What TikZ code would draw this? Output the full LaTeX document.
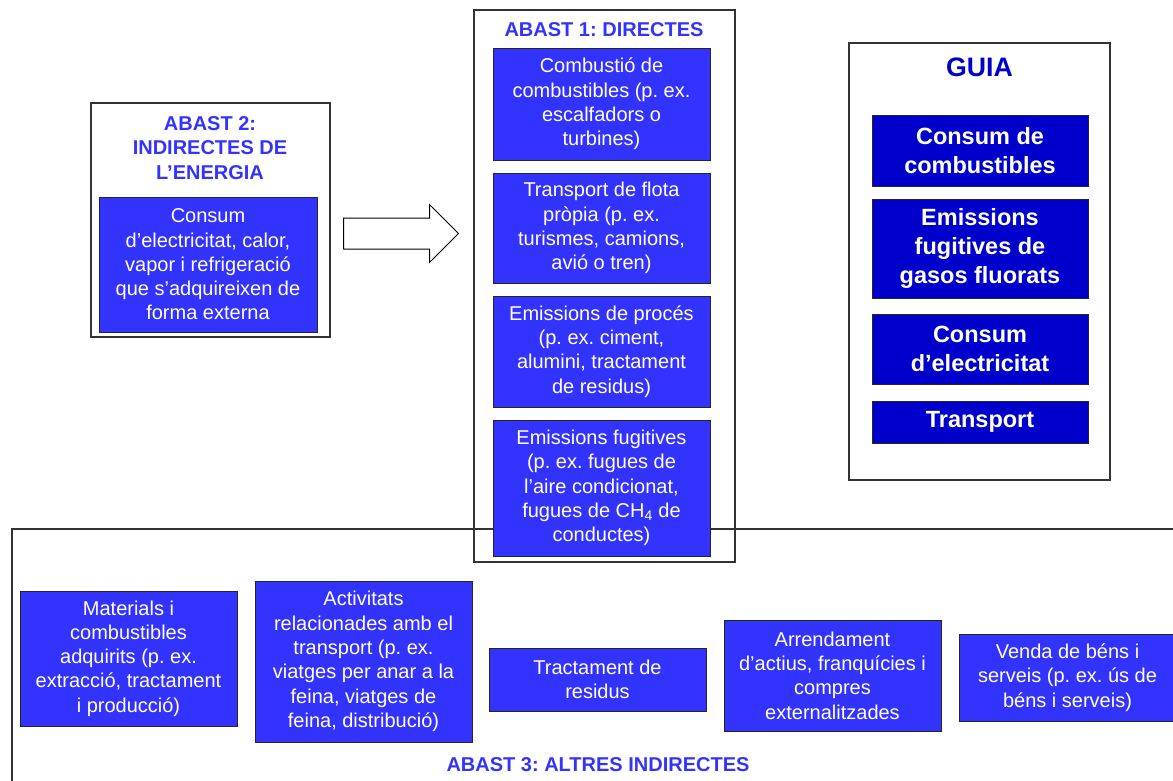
\documentclass[tikz,border=0pt]{standalone}
\usepackage{fontspec}
\setmainfont{Liberation Sans}
\frenchspacing
\usetikzlibrary{shapes.arrows}
\definecolor{scopeblue}{HTML}{3333FF}
\definecolor{guideblue}{HTML}{0000CC}
\definecolor{framegray}{HTML}{333333}

\begin{document}
\begin{tikzpicture}[x=1pt,y=-1pt]
    \tikzset{scopeframe/.style = {rectangle, draw=framegray, line width=1.5pt, inner sep=0pt}}
    \tikzset{base/.style = {rectangle, draw=black!85, line width=1pt,
                           minimum width=217pt, inner sep=2pt, text=white,
                           align=center, font=\fontsize{20}{24.3}\selectfont}}
    \tikzset{scopebox/.style = {base, fill=scopeblue}}
    \tikzset{guidebox/.style = {base, fill=guideblue, minimum width=216pt,
                           font=\bfseries\fontsize{23.5}{29}\selectfont}}
    \tikzset{scopetitle/.style = {text=scopeblue, align=center,
                           font=\bfseries\fontsize{20}{24.5}\selectfont}}

    \useasboundingbox (0,0) rectangle (1173,780);

    % frames
    \node (F2) [scopeframe, minimum width=239pt, minimum height=234pt] at (210.5,220) {};
    \node (F1) [scopeframe, minimum width=261pt, minimum height=552pt] at (604.5,286) {};
    \node (FG) [scopeframe, minimum width=261pt, minimum height=437pt] at (979.5,261.5) {};
    \node (F3) [scopeframe, anchor=north west, minimum width=1200pt, minimum height=300pt] at (11,528) {};

    % titles
    \node (T2) [scopetitle] at (210,148) {ABAST 2:\\INDIRECTES DE\\L’ENERGIA};
    \node (T1) [scopetitle] at (604,30) {ABAST 1: DIRECTES};
    \node (TG) [scopetitle, text=guideblue, font=\bfseries\fontsize{26.7}{32}\selectfont] at (979.5,67) {GUIA};
    \node (T3) [scopetitle] at (598,765) {ABAST 3: ALTRES INDIRECTES};

    % scope 2
    \node (S2) [scopebox, minimum width=218pt, minimum height=135pt] at (208,264.5)
        {Consum\\d’electricitat, calor,\\vapor i refrigeració\\que s’adquireixen de\\forma externa};

    \node (arrow) [draw=black, line width=1pt, single arrow, single arrow head extend=13.5pt,
                   inner xsep=0pt, inner ysep=15pt, minimum height=115pt, anchor=tail] at (343,233.5) {};

    % scope 1
    \node (S1a) [scopebox, minimum height=112pt] at (601.5,104)
        {Combustió de\\combustibles (p. ex.\\escalfadors o\\turbines)};
    \node (S1b) [scopebox, minimum height=110pt] at (601.5,228)
        {Transport de flota\\pròpia (p. ex.\\turismes, camions,\\avió o tren)};
    \node (S1c) [scopebox, minimum height=111pt] at (601.5,351.5)
        {Emissions de procés\\(p. ex. ciment,\\alumini, tractament\\de residus)};
    \node (S1d) [scopebox, minimum height=136pt] at (601.5,488)
        {Emissions fugitives\\(p. ex. fugues de\\l’aire condicionat,\\fugues de CH\textsubscript{4} de\\conductes)};

    % guide
    \node (G1) [guidebox, minimum height=71pt] at (980,150.5) {Consum de\\combustibles};
    \node (G2) [guidebox, minimum height=99pt] at (980,248.5) {Emissions\\fugitives de\\gasos fluorats};
    \node (G3) [guidebox, minimum height=70pt] at (980,349) {Consum\\d’electricitat};
    \node (G4) [guidebox, minimum height=42pt] at (980,422) {Transport};

    % scope 3
    \node (S3a) [scopebox, minimum height=135pt] at (128.5,658.5)
        {Materials i\\combustibles\\adquirits (p. ex.\\extracció, tractament\\i producció)};
    \node (S3b) [scopebox, minimum height=161pt] at (363.5,661.5)
        {Activitats\\relacionades amb el\\transport (p. ex.\\viatges per anar a la\\feina, viatges de\\feina, distribució)};
    \node (S3c) [scopebox, minimum height=63pt] at (597.5,679.5)
        {Tractament de\\residus};
    \node (S3d) [scopebox, minimum height=111pt] at (832.5,675.5)
        {Arrendament\\d’actius, franquícies i\\compres\\externalitzades};
    \node (S3e) [scopebox, minimum height=87pt] at (1067.5,677.5)
        {Venda de béns i\\serveis (p. ex. ús de\\béns i serveis)};

\end{tikzpicture}
\end{document}
